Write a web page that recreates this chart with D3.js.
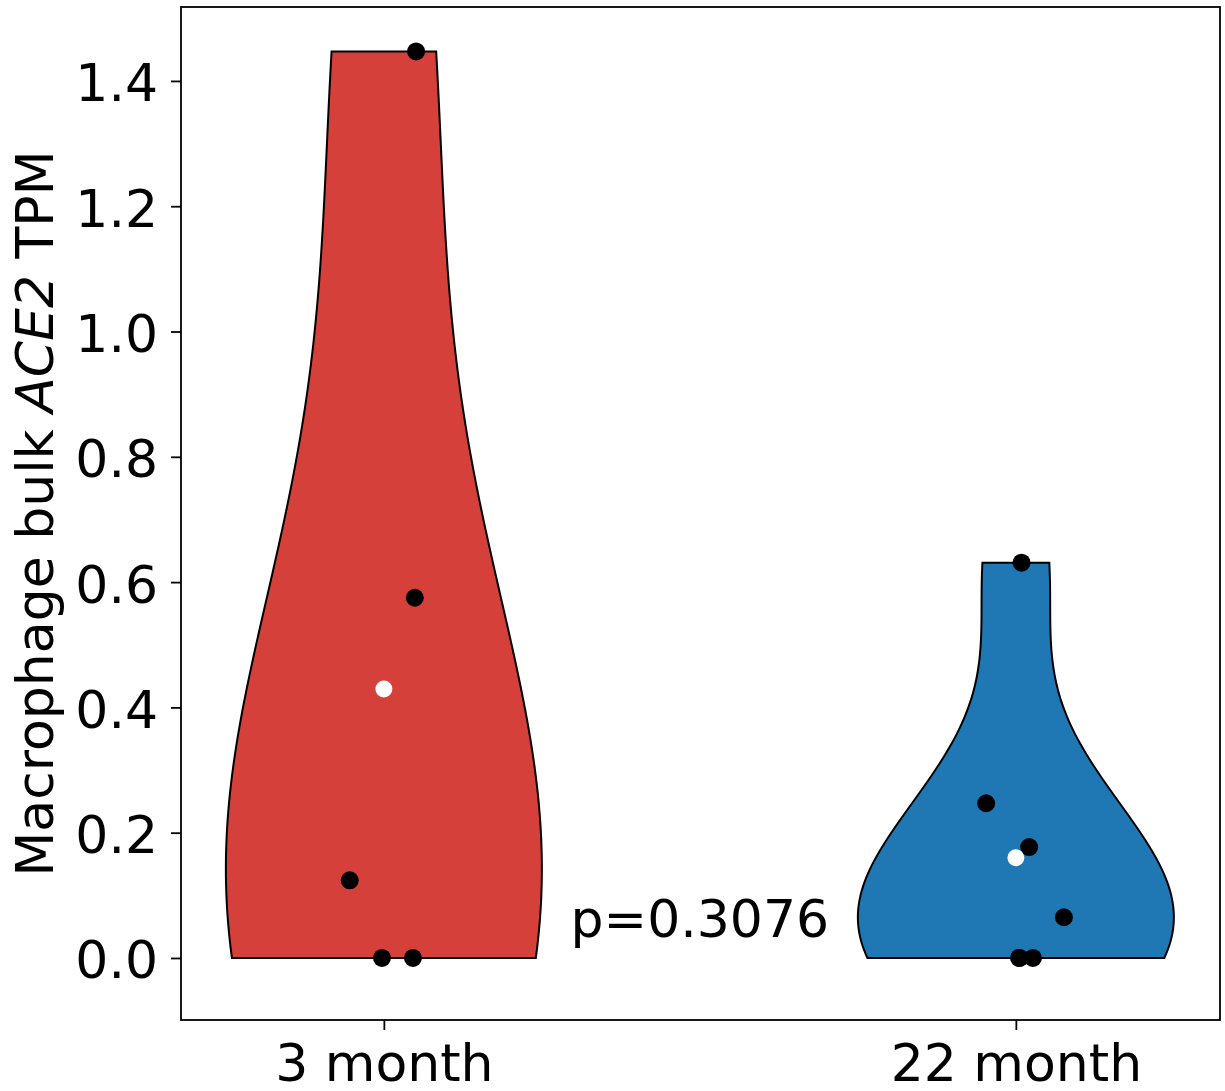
<!DOCTYPE html>
<html>
<head>
<meta charset="utf-8">
<script src="https://cdn.jsdelivr.net/npm/d3@7"></script>
<style>
  body { margin: 0; background: #fff; }
  text { font-family: "DejaVu Sans", sans-serif; fill: #000; }
</style>
</head>
<body>
<div class="violin-chart"></div>
<script>
// data
const groups = ["3 month", "22 month"];
const positions = [1, 2];
const values3m = [1.447, 0.575, 0.124, 0, 0];
const jitter3m = [0.051, 0.049, -0.054, -0.003, 0.046];
const values22m = [0.631, 0.247, 0.177, 0.065, 0, 0, 0];
const jitter22m = [0.009, -0.047, 0.021, 0.076, 0.005, 0.027, 0.006];
const groupColors = ["#d5403a", "#1f77b4"];
const yTicks = [0, 0.2, 0.4, 0.6, 0.8, 1.0, 1.2, 1.4];
const pLabel = "p=0.3076";

drawViolins();

function drawViolins() {
  const width = 1225,
    height = 1091,
    margin = { top: 7, right: 5, bottom: 71, left: 181 },
    fontSize = 52;

  const x = d3.scaleLinear().domain([0.679, 2.323]).range([margin.left, width - margin.right]);
  const y = d3.scaleLinear().domain([-0.099, 1.518]).range([height - margin.bottom, margin.top]);

  const svg = d3.select(".violin-chart")
    .append("svg")
    .attr("width", width)
    .attr("height", height);

  // gaussian kde with scott's bandwidth (like matplotlib violinplot)
  function kde(vals) {
    const n = vals.length;
    const sd = d3.deviation(vals);
    const bw = sd * Math.pow(n, -0.2);
    const lo = d3.min(vals), hi = d3.max(vals);
    const pts = d3.range(100).map(i => lo + (hi - lo) * i / 99);
    return pts.map(p => [p, d3.sum(vals, v => Math.exp(-0.5 * ((p - v) / bw) ** 2))]);
  }

  const series = [
    { name: groups[0], pos: positions[0], values: values3m, jitter: jitter3m, color: groupColors[0] },
    { name: groups[1], pos: positions[1], values: values22m, jitter: jitter22m, color: groupColors[1] }
  ];

  const halfWidth = 0.25;

  series.forEach(s => {
    const dens = kde(s.values);
    const maxD = d3.max(dens, d => d[1]);
    const right = dens.map(d => [x(s.pos + halfWidth * d[1] / maxD), y(d[0])]);
    const left = dens.slice().reverse().map(d => [x(s.pos - halfWidth * d[1] / maxD), y(d[0])]);

    svg.append("path")
      .attr("d", d3.line()(right.concat(left)) + "Z")
      .attr("fill", s.color)
      .attr("stroke", "#000")
      .attr("stroke-width", 2)
      .attr("stroke-linejoin", "miter");
  });

  // points
  series.forEach(s => {
    svg.append("g")
      .selectAll("circle")
      .data(s.values)
      .enter()
      .append("circle")
      .attr("cx", (v, i) => x(s.pos + s.jitter[i]))
      .attr("cy", v => y(v))
      .attr("r", 9)
      .attr("fill", "#000");

    svg.append("circle")
      .attr("cx", x(s.pos))
      .attr("cy", y(d3.mean(s.values)))
      .attr("r", 8.5)
      .attr("fill", "#fff");
  });

  // p value text
  svg.append("text")
    .attr("x", x(1.5))
    .attr("y", y(0.034))
    .attr("text-anchor", "middle")
    .style("font-size", fontSize + "px")
    .text(pLabel);

  // frame
  svg.append("rect")
    .attr("x", margin.left)
    .attr("y", margin.top)
    .attr("width", width - margin.left - margin.right)
    .attr("height", height - margin.top - margin.bottom)
    .attr("fill", "none")
    .attr("stroke", "#000")
    .attr("stroke-width", 1.8);

  // y axis
  const yAxis = svg.append("g")
    .attr("transform", `translate(${margin.left},0)`)
    .call(d3.axisLeft(y).tickValues(yTicks).tickFormat(d3.format(".1f")).tickSize(10).tickPadding(13));
  yAxis.select(".domain").remove();
  yAxis.selectAll("line").attr("stroke", "#000").attr("stroke-width", 1.8);
  yAxis.selectAll("text")
    .attr("dy", null)
    .attr("y", 20)
    .style("font-size", fontSize + "px")
    .style("font-family", "DejaVu Sans");

  // x axis
  const xAxis = svg.append("g")
    .attr("transform", `translate(0,${height - margin.bottom})`)
    .call(d3.axisBottom(x).tickValues(positions).tickFormat((d, i) => groups[i]).tickSize(10).tickPadding(12));
  xAxis.select(".domain").remove();
  xAxis.selectAll("line").attr("stroke", "#000").attr("stroke-width", 1.8);
  xAxis.selectAll("text")
    .attr("dy", null)
    .attr("y", 61)
    .style("font-size", fontSize + "px")
    .style("font-family", "DejaVu Sans");

  // y label with italic gene name
  const yLabel = svg.append("text")
    .attr("transform", `translate(53,${(margin.top + height - margin.bottom) / 2}) rotate(-90)`)
    .attr("text-anchor", "middle")
    .style("font-size", fontSize + "px");
  yLabel.append("tspan").text("Macrophage bulk ");
  yLabel.append("tspan").style("font-style", "italic").text("ACE2");
  yLabel.append("tspan").text(" TPM");
}
</script>
</body>
</html>
